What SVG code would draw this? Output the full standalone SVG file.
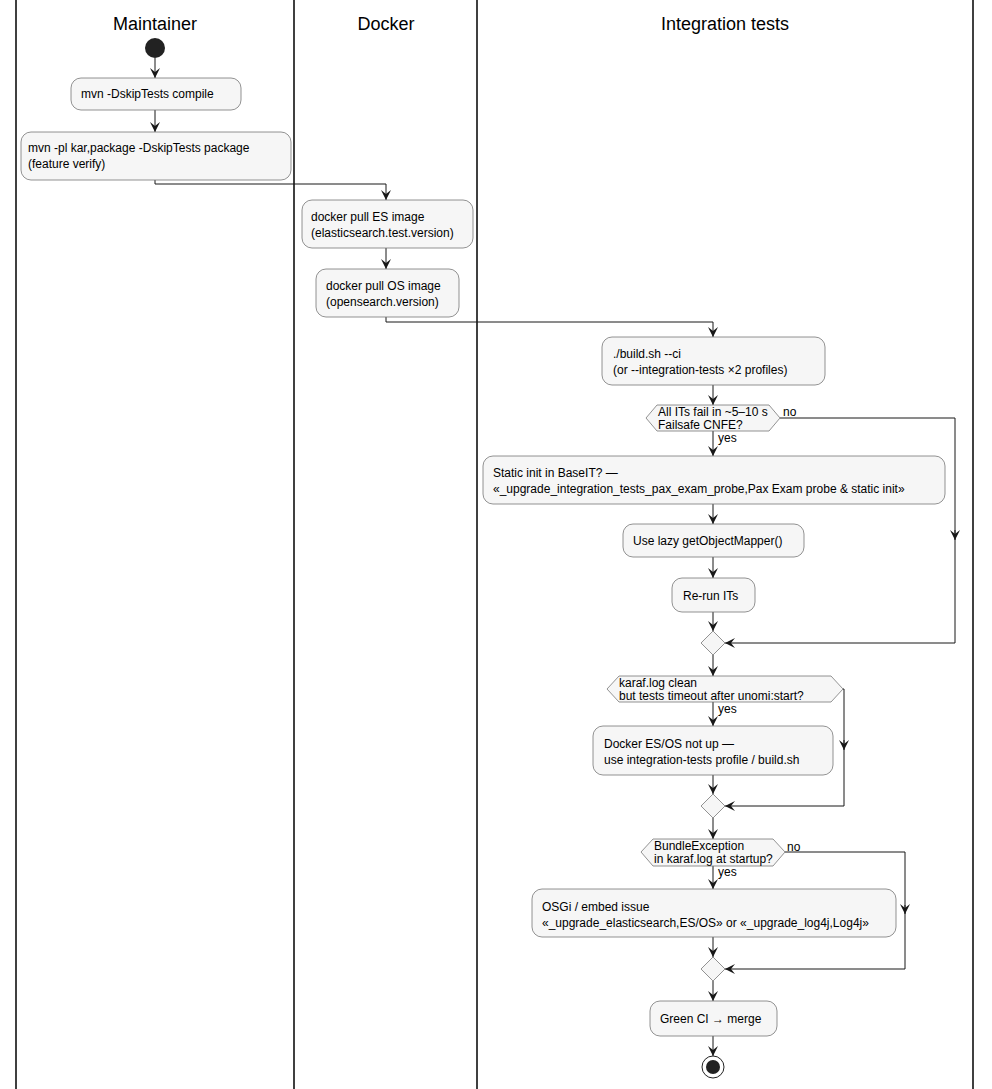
<svg xmlns="http://www.w3.org/2000/svg" width="992" height="1089" viewBox="0 0 992 1089">
<style>
.t{font-family:"Liberation Sans",Arial,sans-serif;font-size:12px;fill:#000}
.h{font-family:"Liberation Sans",Arial,sans-serif;font-size:18px;fill:#000;text-anchor:middle}
.b{fill:#f6f6f6;stroke:#777;stroke-width:0.8}
.l{fill:none;stroke:#181818;stroke-width:1}
.lane{stroke:#000;stroke-width:1.5}
</style>
<defs><marker id="a" viewBox="0 0 10 10" refX="10" refY="5" markerWidth="10" markerHeight="10" orient="auto" markerUnits="userSpaceOnUse"><path d="M0,0 L10,5 L0,10 L4,5 Z" fill="#181818"/></marker></defs>
<rect width="992" height="1089" fill="#fff"/>
<g id="lanes">
<line class="lane" x1="16" y1="0" x2="16" y2="1089"/><line class="lane" x1="294" y1="0" x2="294" y2="1089"/>
<line class="lane" x1="477" y1="0" x2="477" y2="1089"/><line class="lane" x1="973" y1="0" x2="973" y2="1089"/>
<text class="h" x="155" y="30">Maintainer</text><text class="h" x="386" y="30">Docker</text><text class="h" x="725" y="30">Integration tests</text>
</g>
<g id="connectors">
<path class="l" marker-end="url(#a)" d="M155,58 V78"/>
<path class="l" marker-end="url(#a)" d="M155,110 V132"/>
<path class="l" marker-end="url(#a)" d="M155,180 V184 H386 V200"/>
<path class="l" marker-end="url(#a)" d="M386,248 V269"/>
<path class="l" marker-end="url(#a)" d="M386,317 V322 H713 V337"/>
<path class="l" marker-end="url(#a)" d="M713,385 V405"/>
<path class="l" marker-end="url(#a)" d="M713,431 V456"/>
<path class="l" marker-end="url(#a)" d="M713,504 V524"/>
<path class="l" marker-end="url(#a)" d="M713,557 V578"/>
<path class="l" marker-end="url(#a)" d="M713,612 V631"/>
<path class="l" marker-end="url(#a)" d="M780,418 H955 V540"/><path class="l" marker-end="url(#a)" d="M955,530 V643 H725"/>
<path class="l" marker-end="url(#a)" d="M713,655 V676"/>
<path class="l" marker-end="url(#a)" d="M713,702 V726"/>
<path class="l" marker-end="url(#a)" d="M713,775 V794"/>
<path class="l" marker-end="url(#a)" d="M843,689 H844 V750"/><path class="l" marker-end="url(#a)" d="M844,740 V806 H725"/>
<path class="l" marker-end="url(#a)" d="M713,818 V839"/>
<path class="l" marker-end="url(#a)" d="M713,866 V889"/>
<path class="l" marker-end="url(#a)" d="M713,937 V957"/>
<path class="l" marker-end="url(#a)" d="M785,852 H905 V914"/><path class="l" marker-end="url(#a)" d="M905,905 V969 H725"/>
<path class="l" marker-end="url(#a)" d="M713,981 V1001"/>
<path class="l" marker-end="url(#a)" d="M713,1036 V1056"/>
<text class="t" x="783" y="416">no</text><text class="t" x="718" y="442">yes</text>
<text class="t" x="821" y="688">no</text><text class="t" x="718" y="713">yes</text>
<text class="t" x="787" y="851">no</text><text class="t" x="718" y="876">yes</text>
</g>
<g id="start"><circle cx="155" cy="48" r="10" fill="#222"/></g>
<g id="n1"><rect class="b" x="71" y="78" width="170" height="32" rx="10"/><text class="t" x="81" y="98">mvn -DskipTests compile</text></g>
<g id="n2"><rect class="b" x="21" y="132" width="270" height="48" rx="10"/><text class="t" x="28" y="152">mvn -pl kar,package -DskipTests package</text><text class="t" x="28" y="168">(feature verify)</text></g>
<g id="n3"><rect class="b" x="302" y="200" width="171" height="48" rx="10"/><text class="t" x="311" y="221">docker pull ES image</text><text class="t" x="311" y="237">(elasticsearch.test.version)</text></g>
<g id="n4"><rect class="b" x="316" y="269" width="143" height="48" rx="10"/><text class="t" x="326" y="290">docker pull OS image</text><text class="t" x="326" y="306">(opensearch.version)</text></g>
<g id="n5"><rect class="b" x="602" y="337" width="223" height="48" rx="10"/><text class="t" x="613" y="358">./build.sh --ci</text><text class="t" x="613" y="374">(or --integration-tests ×2 profiles)</text></g>
<g id="d1"><polygon class="b" points="646,418 657,405 769,405 780,418 769,431 657,431"/><text class="t" x="658" y="416">All ITs fail in ~5–10 s</text><text class="t" x="658" y="429">Failsafe CNFE?</text></g>
<g id="n6"><rect class="b" x="483" y="456" width="462" height="48" rx="10"/><text class="t" x="493" y="477">Static init in BaseIT? —</text><text class="t" x="493" y="493">«_upgrade_integration_tests_pax_exam_probe,Pax Exam probe &amp; static init»</text></g>
<g id="n7"><rect class="b" x="623" y="524" width="181" height="33" rx="10"/><text class="t" x="633" y="545">Use lazy getObjectMapper()</text></g>
<g id="n8"><rect class="b" x="672" y="578" width="83" height="34" rx="10"/><text class="t" x="683" y="600">Re-run ITs</text></g>
<g id="m1"><polygon class="b" points="713,631 725,643 713,655 701,643"/></g>
<g id="d2"><polygon class="b" points="607,689 619,676 831,676 843,689 831,702 619,702"/><text class="t" x="619" y="687">karaf.log clean</text><text class="t" x="619" y="700">but tests timeout after unomi:start?</text></g>
<g id="n9"><rect class="b" x="593" y="726" width="240" height="49" rx="10"/><text class="t" x="604" y="748">Docker ES/OS not up —</text><text class="t" x="604" y="764">use integration-tests profile / build.sh</text></g>
<g id="m2"><polygon class="b" points="713,794 725,806 713,818 701,806"/></g>
<g id="d3"><polygon class="b" points="641,852 653,839 773,839 785,852 773,866 653,866"/><text class="t" x="654" y="850">BundleException</text><text class="t" x="654" y="863">in karaf.log at startup?</text></g>
<g id="n10"><rect class="b" x="532" y="889" width="364" height="48" rx="10"/><text class="t" x="542" y="911">OSGi / embed issue</text><text class="t" x="542" y="927">«_upgrade_elasticsearch,ES/OS» or «_upgrade_log4j,Log4j»</text></g>
<g id="m3"><polygon class="b" points="713,957 725,969 713,981 701,969"/></g>
<g id="n11"><rect class="b" x="650" y="1001" width="127" height="35" rx="10"/><text class="t" x="660" y="1023">Green CI → merge</text></g>
<g id="end"><circle cx="713" cy="1067" r="11" fill="#fff" stroke="#222" stroke-width="1"/><circle cx="713" cy="1067" r="7" fill="#222"/></g>
</svg>
